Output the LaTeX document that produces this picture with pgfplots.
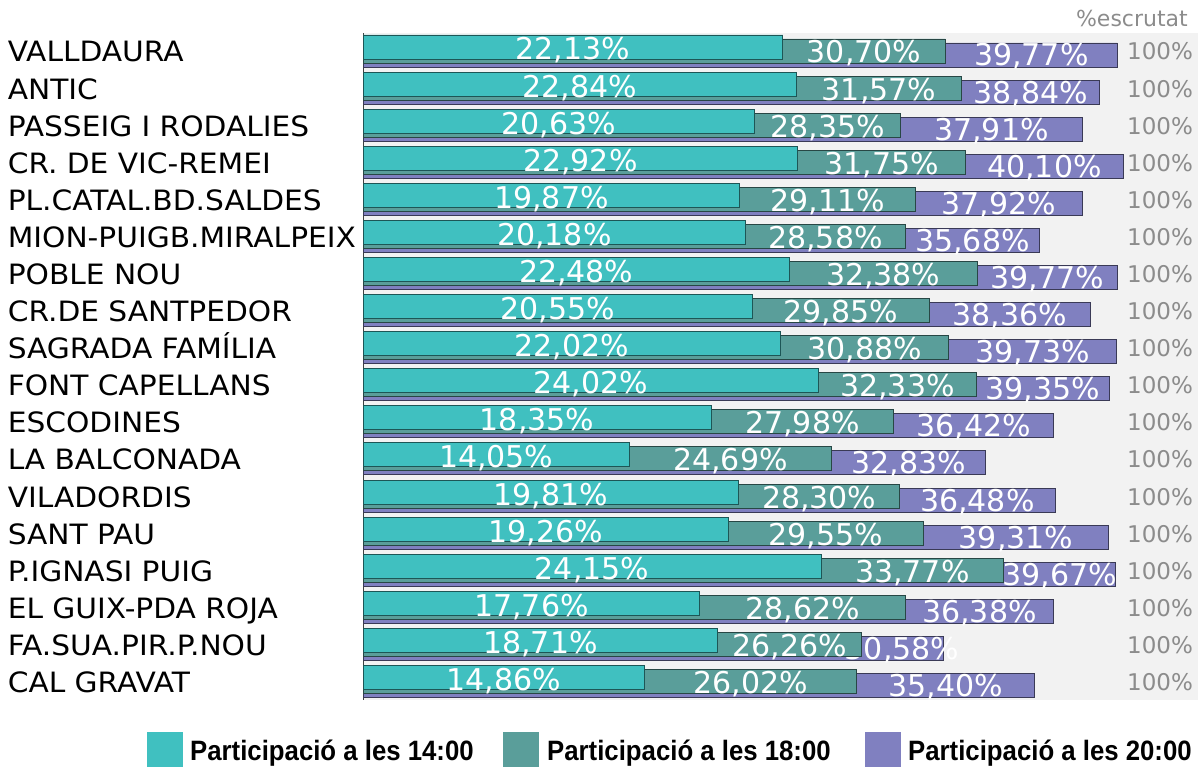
\documentclass[border=0pt]{standalone}
\usepackage{pgfplots}
\pgfplotsset{compat=1.18}
\usepackage{pgfplotstable}
\usepackage{fontspec}
\setmainfont{DejaVu Sans}
\newfontfamily\catfont{DejaVu Sans}[FakeStretch=1.06]
\newfontfamily\legfont{Liberation Sans}[FakeStretch=0.92]
\definecolor{cA}{RGB}{64,192,192}
\definecolor{cB}{RGB}{90,158,154}
\definecolor{cC}{RGB}{128,128,192}
\definecolor{bgc}{RGB}{242,242,242}
\definecolor{grayt}{RGB}{140,140,140}
\pgfplotstableread[col sep=semicolon]{
i;a;b;c;e
1;22.13;30.70;39.77;100
2;22.84;31.57;38.84;100
3;20.63;28.35;37.91;100
4;22.92;31.75;40.10;100
5;19.87;29.11;37.92;100
6;20.18;28.58;35.68;100
7;22.48;32.38;39.77;100
8;20.55;29.85;38.36;100
9;22.02;30.88;39.73;100
10;24.02;32.33;39.35;100
11;18.35;27.98;36.42;100
12;14.05;24.69;32.83;100
13;19.81;28.30;36.48;100
14;19.26;29.55;39.31;100
15;24.15;33.77;39.67;100
16;17.76;28.62;36.38;100
17;18.71;26.26;30.58;100
18;14.86;26.02;35.40;100
}\data
\pgfplotsset{
  lbl/.style={only marks, mark=*, mark size=0pt, mark options={draw=none,fill=none}, forget plot,
    point meta=explicit,
    nodes near coords={\pgfmathprintnumber[fixed,fixed zerofill,precision=2,use comma,assume math mode=true]{\pgfplotspointmeta}\%},
    nodes near coords style={anchor=base, yshift=#1, inner sep=0pt, text=white, font=\fontsize{30}{31}\selectfont}},
  barst/.style={xbar, bar width=24pt, forget plot, line width=0.9pt},
  frame/.style={at={(363pt,67pt)}, anchor=south west,
    scale only axis, width=835pt, height=667pt,
    xmin=0, xmax=44.02, ymin=-18.5, ymax=-0.515, clip=false}
}
\begin{document}
\begin{tikzpicture}
\useasboundingbox (0,0) rectangle (1198pt,767pt);
\begin{axis}[
  frame,
  axis x line=none,
  axis y line=left,
  y axis line style={-, draw=black!75, line width=1pt},
  axis background/.style={fill=bgc},
  ytick={-1,-2,...,-18},
  yticklabels={VALLDAURA,ANTIC,PASSEIG I RODALIES,CR. DE VIC-REMEI,PL.CATAL.BD.SALDES,MION-PUIGB.MIRALPEIX,POBLE NOU,CR.DE SANTPEDOR,SAGRADA FAMÍLIA,FONT CAPELLANS,ESCODINES,LA BALCONADA,VILADORDIS,SANT PAU,P.IGNASI PUIG,EL GUIX-PDA ROJA,FA.SUA.PIR.P.NOU,CAL GRAVAT},
  major tick length=0pt,
  yticklabel style={text width=355pt, align=left, anchor=base east, inner sep=0pt, yshift=-11pt, font=\fontsize{28}{32}\catfont, text=black},
]
\addplot[barst, bar shift=-4pt, fill=cC, draw=cC!45!black] table[x=c, y expr=-\thisrow{i}] {\data};
\addplot[lbl=-15pt] table[x expr={(\thisrow{b}+\thisrow{c})/2}, y expr=-\thisrow{i}, meta=c] {\data};
\addplot[only marks, mark=*, mark size=0pt, mark options={draw=none,fill=none}, forget plot,
  point meta=explicit,
  nodes near coords={\pgfmathprintnumber[fixed,precision=0,assume math mode=true]{\pgfplotspointmeta}\%},
  nodes near coords style={anchor=base, yshift=-9pt, inner sep=0pt, text=grayt, font=\fontsize{23}{24}\selectfont}]
  table[x expr=42.02, y expr=-\thisrow{i}, meta=e] {\data};
\end{axis}
\begin{axis}[frame, hide axis]
\addplot[barst, bar shift=0pt, fill=cB, draw=cB!45!black] table[x=b, y expr=-\thisrow{i}] {\data};
\addplot[barst, bar shift=4pt, fill=cA, draw=cA!45!black] table[x=a, y expr=-\thisrow{i}] {\data};
\addplot[lbl=-12pt] table[x expr={(\thisrow{a}+\thisrow{b})/2}, y expr=-\thisrow{i}, meta=b] {\data};
\addplot[lbl=-9pt] table[x expr={\thisrow{a}/2}, y expr=-\thisrow{i}, meta=a] {\data};
\end{axis}
\node[anchor=base east, inner sep=0pt, text=grayt, font=\fontsize{22}{24}\selectfont] at (1188pt,740pt) {\%escrutat};
% legend
\begin{scope}[every node/.style={anchor=base west, inner sep=0pt, font=\fontsize{28}{30}\legfont\bfseries, text=black}]
\fill[cA] (147pt,-1pt) rectangle (183pt,35pt);
\node at (190pt,6.5pt) {Participació a les 14:00};
\fill[cB] (503pt,-1pt) rectangle (539pt,35pt);
\node at (547pt,6.5pt) {Participació a les 18:00};
\fill[cC] (865pt,-1pt) rectangle (901pt,35pt);
\node at (908pt,6.5pt) {Participació a les 20:00};
\end{scope}
\end{tikzpicture}
\end{document}
